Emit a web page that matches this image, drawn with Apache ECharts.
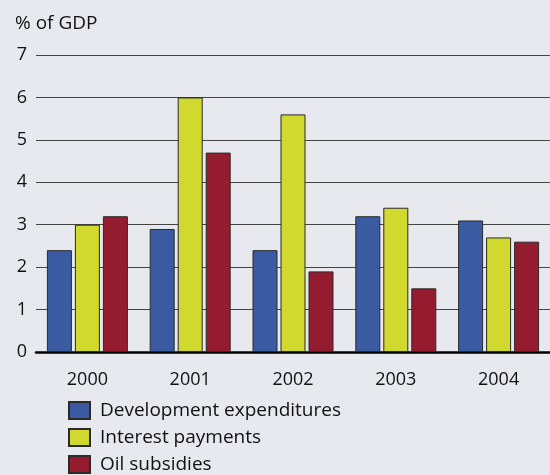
<!DOCTYPE html>
<html>
<head>
<meta charset="utf-8">
<script src="https://cdn.jsdelivr.net/npm/echarts@6/dist/echarts.min.js"></script>
<style>
html,body{margin:0;padding:0;background:#e8e9ee;}
#chart{width:550px;height:475px;}
</style>
</head>
<body>
<div id="chart"></div>
<script>
var years=['2000','2001','2002','2003','2004'];
var devExp=[2.4,2.9,2.4,3.2,3.1];
var interest=[3.0,6.0,5.6,3.4,2.7];
var oil=[3.2,4.7,1.9,1.5,2.6];
var yTicks=[0,1,2,3,4,5,6,7];

var chart=echarts.init(document.getElementById('chart'));
var font='"Open Sans", "Noto Sans", sans-serif';
function barSeries(name,data,color){
    return {
        name:name,
        type:'bar',
        data:data,
        barWidth:25,
        barGap:'12%',
        itemStyle:{color:color,borderColor:'#2a2a2a',borderWidth:1}
    };
}
var option={
    backgroundColor:'#e8e9ee',
    textStyle:{fontFamily:font},
    grid:{left:36,right:0,top:55,bottom:123},
    graphic:[{
        type:'text',left:15,top:14,
        style:{text:'% of GDP',font:'19px '+font,fill:'#111'}
    }],
    legend:{
        orient:'vertical',left:68,top:401,padding:0,height:120,
        itemWidth:21,itemHeight:17,itemGap:8,
        textStyle:{fontSize:19,lineHeight:17,color:'#111',fontFamily:font,padding:[0,0,0,5]},
        data:['Development expenditures','Interest payments','Oil subsidies'],
        icon:'rect'
    },
    xAxis:{
        type:'category',
        data:years,
        axisLine:{lineStyle:{color:'#000',width:2.5}},
        axisTick:{show:false},
        axisLabel:{fontSize:18,color:'#111',margin:19,fontFamily:font}
    },
    yAxis:{
        type:'value',min:0,max:7,interval:1,
        axisLine:{show:false},
        axisTick:{show:false},
        axisLabel:{fontSize:18,color:'#111',margin:9,fontFamily:font,
            formatter:function(v){return yTicks.indexOf(v)>=0?String(v):'';}},
        splitLine:{lineStyle:{color:'#444',width:1.2}}
    },
    series:[
        barSeries('Development expenditures',devExp,'#3a5ba2'),
        barSeries('Interest payments',interest,'#d1d82e'),
        barSeries('Oil subsidies',oil,'#951b2f')
    ]
};
chart.setOption(option);
</script>
</body>
</html>
